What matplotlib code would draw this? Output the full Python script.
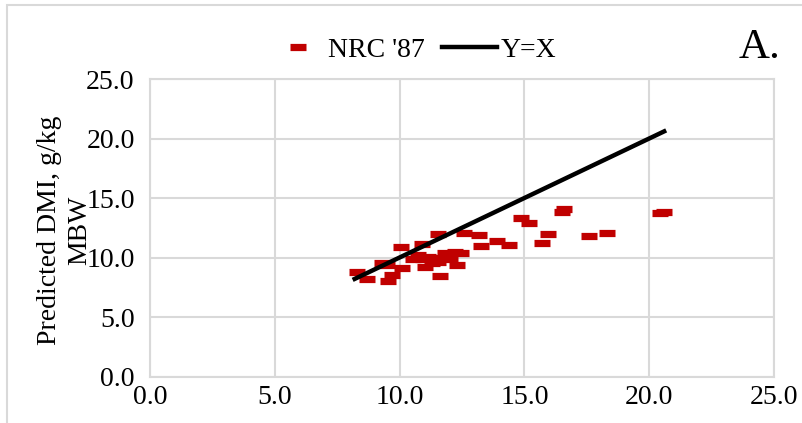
import matplotlib
matplotlib.use("Agg")
import matplotlib.pyplot as plt
from matplotlib.markers import MarkerStyle
from matplotlib.patches import Rectangle

plt.rcParams['font.family'] = ['Liberation Serif', 'DejaVu Serif']

observed = [8.28, 8.68, 9.28, 9.68, 9.55, 10.08, 10.06, 10.88, 11.53, 12.6,
            13.25, 13.2, 13.9, 14.4, 14.85, 15.2, 16.6, 16.5, 15.96, 15.7,
            17.6, 18.3, 20.45, 20.6, 11.02, 11.62, 12.29, 10.75, 11.15, 11.4,
            11.82, 12.22, 11.28, 11.55, 10.93, 10.53, 12.0, 9.5, 12.45]
predicted = [8.75, 8.2, 9.5, 8.53, 8.05, 9.14, 10.86, 11.13, 11.95, 12.05,
             11.0, 11.9, 11.4, 11.05, 13.3, 12.87, 14.05, 13.8, 11.97, 11.25,
             11.8, 12.03, 13.76, 13.85, 9.23, 8.47, 9.37, 10.2, 10.07, 9.95,
             10.35, 10.49, 9.5, 9.65, 9.87, 9.87, 9.87, 9.4, 10.4]
line_xy = [8.2, 20.6]
ticks = [0, 5, 10, 15, 20, 25]

red = '#C00000'
grid = '#d9d9d9'
fs = 20

fig = plt.figure(figsize=(8.02, 4.23), dpi=100)
ax = fig.add_axes([150/802, 1 - 376.5/423, 624/802, 297.5/423])

# chart area frame
fig.patches.append(Rectangle((7/802, -0.1), 1.2, 1 - 5/423 + 0.1, transform=fig.transFigure,
                             fill=False, edgecolor=grid, lw=1.5))

dash = MarkerStyle('_', capstyle='butt')
ax.plot(observed, predicted, linestyle='none', marker=dash, markersize=12,
        markeredgewidth=5.2, color=red, label="NRC '87", zorder=3)
ax.plot(line_xy, line_xy, color='black', lw=3.2, label='Y=X', zorder=4)

ax.set_xlim(0, 25)
ax.set_ylim(0, 25)
ax.set_xticks(ticks)
ax.set_yticks(ticks)
ax.set_xticklabels([f'{t:.1f}' for t in ticks])
ax.set_yticklabels([f'{t:.1f}' for t in ticks])
ax.tick_params(length=0, labelsize=fs)
ax.tick_params(axis='x', pad=6)
ax.tick_params(axis='y', pad=11)
ax.grid(True, color=grid, lw=1.5)
ax.set_axisbelow(True)
for s in ax.spines.values():
    s.set_color(grid)
    s.set_linewidth(1.5)

fig.text(64.5/802, 1 - 230/423, "Predicted DMI, g/kg\nMBW", rotation=90,
         ha='center', va='center', multialignment='center', fontsize=fs, linespacing=1.3)

fig.legend(loc='center', bbox_to_anchor=(413/802, 1 - 50/423), ncol=2, frameon=False,
           fontsize=fs, handlelength=2.0, handletextpad=0.1, columnspacing=0.6,
           borderpad=0)
fig.text(760/802, 1 - 48/423, 'A.', ha='center', va='center', fontsize=31)

fig.savefig('out.png', dpi=100)
